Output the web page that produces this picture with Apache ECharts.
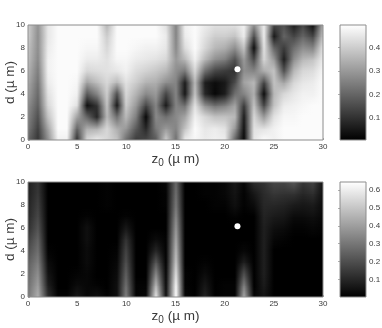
<!DOCTYPE html>
<html><head><meta charset="utf-8">
<style>html,body{margin:0;padding:0;background:#fff}#c{width:382px;height:328px}</style>
<script src="https://cdn.jsdelivr.net/npm/echarts@6/dist/echarts.min.js"></script></head>
<body><div id="c"></div>
<script>
// Top panel: one list per z0 = 0..30, values at d = 0..10 (in units of 0.01)
var topColumns = [
[20,24,26,28,31,33,35,37,38,40,40],
[11,13,16,19,21,23,25,27,28,28,29],
[28,32,38,42,44,46,47,47,46,45,45],
[47,49,49,49,49,49,49,49,49,49,49],
[47,49,49,49,49,49,49,49,49,49,49],
[10,20,32,44,47,48,49,49,49,49,49],
[42,34,20,3,18,32,42,46,48,49,49],
[46,34,8,10,26,37,43,46,48,49,49],
[42,42,36,38,40,42,44,44,42,40,36],
[38,34,22,5,16,36,45,48,49,49,49],
[22,30,36,40,42,44,47,48,49,49,49],
[12,18,25,30,35,40,43,46,48,49,49],
[14,8,2,14,27,35,41,45,47,49,49],
[18,24,27,26,30,34,39,44,47,49,49],
[40,30,22,5,14,28,36,42,45,46,44],
[22,26,27,26,26,26,28,30,27,26,26],
[46,38,32,22,5,6,24,36,43,46,47],
[48,49,47,44,38,36,42,47,49,49,49],
[46,45,42,28,8,6,22,36,42,44,46],
[47,46,38,22,2,3,14,28,36,40,44],
[46,44,38,25,6,5,12,25,34,40,44],
[20,30,36,32,22,15,10,16,28,38,44],
[2,4,6,12,26,32,28,30,38,46,47],
[45,44,42,38,34,36,26,15,3,15,28],
[49,44,30,14,3,14,34,42,44,46,46],
[47,47,44,38,36,38,38,30,20,5,14],
[49,49,48,46,42,32,16,6,12,20,16],
[49,49,48,47,45,42,36,28,22,14,6],
[49,49,49,48,47,45,42,36,28,20,14],
[49,49,49,49,47,46,43,38,26,14,3],
[49,49,49,49,49,49,48,46,44,38,34]
];
// Bottom panel: same layout
var bottomColumns = [
[30,28,26,24,20,16,12,10,9,8,8],
[44,40,36,32,28,25,21,18,16,14,13],
[12,8,5,3,1,0,0,0,0,0,0],
[1,0,0,0,0,0,0,0,0,0,0],
[1,0,0,0,0,0,0,0,0,0,0],
[6,3,1,0,0,0,0,0,0,0,0],
[2,2,2,3,3,4,4,1,0,0,0],
[4,1,0,0,0,0,0,0,0,0,0],
[1,0,0,0,0,0,0,0,1,1,1],
[4,4,3,2,1,0,0,0,0,0,0],
[32,28,24,20,17,13,6,1,0,0,0],
[1,1,0,0,0,0,0,0,0,0,0],
[2,1,0,0,0,0,0,0,0,0,0],
[58,46,34,22,10,3,0,0,0,0,0],
[4,3,2,1,1,1,0,0,1,1,2],
[64,62,56,50,46,42,38,34,30,28,26],
[2,1,1,0,0,0,0,0,0,0,0],
[0,0,0,0,0,0,0,0,0,0,0],
[9,6,3,1,0,0,0,0,0,1,1],
[0,0,0,0,0,0,0,0,1,1,1],
[1,1,0,0,0,0,0,0,1,2,2],
[1,1,0,0,0,0,0,1,4,5,6],
[42,32,20,8,2,0,0,0,1,1,2],
[2,0,0,0,0,0,0,0,3,6,11],
[5,7,8,8,8,8,8,9,10,11,13],
[0,0,0,0,0,2,4,7,10,14,18],
[0,0,0,0,0,1,3,6,9,13,18],
[0,0,0,0,0,0,1,3,7,13,22],
[0,0,0,0,0,0,1,3,6,10,14],
[0,0,0,0,0,0,2,4,7,12,17],
[0,0,0,0,0,0,1,2,3,4,5]
];
var zTicks = [0,5,10,15,20,25,30];
var dTicks = [0,2,4,6,8,10];
var marker = [[21.3, 6.15]];
var topRange = [0.005, 0.497];
var bottomRange = [0.002, 0.645];
var topBarTicks = [0.1,0.2,0.3,0.4];
var bottomBarTicks = [0.1,0.2,0.3,0.4,0.5,0.6];

var textColor = '#3a3a3a', frame = '#8c8c8c', font = 'Liberation Sans';
function grey(v, r){
  var g = Math.max(0, Math.min(255, Math.round((v - r[0]) / (r[1] - r[0]) * 255)));
  return 'rgb(' + g + ',' + g + ',' + g + ')';
}
function cells(cols){
  var out = [];
  for (var z = 0; z < cols.length - 1; z++)
    for (var d = 0; d < cols[z].length - 1; d++)
      out.push([z, d, cols[z][d]/100, cols[z+1][d]/100, cols[z][d+1]/100, cols[z+1][d+1]/100]);
  return out;
}
var STRIPS = 12;
function shader(range){
  return function(params, api){
    var z = api.value(0), d = api.value(1);
    var a = api.value(2), b = api.value(3), c = api.value(4), e = api.value(5);
    var p0 = api.coord([z, d]), p1 = api.coord([z + 1, d + 1]);
    var x0 = Math.round(p0[0]), x1 = Math.round(p1[0]);
    var h = p0[1] - p1[1], kids = [];
    for (var i = 0; i < STRIPS; i++){
      var t = (i + 0.5) / STRIPS;
      var yb = Math.round(p0[1] - h * i / STRIPS), yt = Math.round(p0[1] - h * (i + 1) / STRIPS);
      if (yb <= yt) continue;
      kids.push({type:'rect', silent:true,
        shape:{x:x0, y:yt, width:x1 - x0, height:yb - yt},
        style:{fill:new echarts.graphic.LinearGradient(0,0,1,0,[
          {offset:0, color:grey(a + (c - a) * t, range)},
          {offset:1, color:grey(b + (e - b) * t, range)}])}});
    }
    return {type:'group', children:kids};
  };
}
function barShader(params, api){
  var r = api.value(0) === 0 ? topRange : bottomRange;
  var a = api.coord([0, r[0]]), b = api.coord([1, r[1]]);
  return {type:'rect', silent:true, shape:{x:a[0], y:b[1], width:b[0]-a[0], height:a[1]-b[1]},
    style:{fill:new echarts.graphic.LinearGradient(0,1,0,0,[{offset:0,color:'#000'},{offset:1,color:'#fff'}])}};
}
var grids = [
  {left:28, top:25, width:295, height:115},
  {left:28, top:182, width:295, height:115},
  {left:340, top:25, width:26, height:115},
  {left:340, top:182, width:26, height:115}
];
grids.forEach(function(g){ g.show = true; g.borderColor = frame; g.borderWidth = 1; g.backgroundColor = 'transparent'; g.z = 5; g.outerBoundsMode = 'none'; g.containLabel = false; });

function xAxis(i){
  return {type:'value', gridIndex:i, min:0, max:30, interval:5,
    name:'{n|z}{s|0}{n| (µ m)}', nameLocation:'middle', nameGap:11,
    nameTextStyle:{rich:{n:{fontSize:13.5,fontFamily:font,color:textColor},
      s:{fontSize:10,fontFamily:font,color:textColor,verticalAlign:'bottom',padding:[7,0,0,0]}}},
    axisLine:{show:false}, splitLine:{show:false},
    axisTick:{inside:true, length:2, lineStyle:{color:frame, width:0.7}},
    axisLabel:{fontSize:8, fontFamily:font, color:textColor, margin:3, customValues:zTicks}};
}
function yAxis(i){
  return {type:'value', gridIndex:i, min:0, max:10, interval:2,
    name:'d (µ m)', nameLocation:'middle', nameGap:11, nameMoveOverlap:false,
    nameTextStyle:{fontSize:13.5,fontFamily:font,color:textColor},
    axisLine:{show:false}, splitLine:{show:false},
    axisTick:{inside:true, length:2, lineStyle:{color:frame, width:0.7}},
    axisLabel:{fontSize:8, fontFamily:font, color:textColor, margin:3, customValues:dTicks}};
}
function barX(i){ return {type:'value', gridIndex:i, min:0, max:1, show:false}; }
function barY(i, r, t){
  return {type:'value', gridIndex:i, min:r[0], max:r[1], position:'right', scale:true,
    axisLine:{show:false}, splitLine:{show:false},
    axisTick:{inside:true, length:2, customValues:t, lineStyle:{color:frame, width:0.7}},
    axisLabel:{fontSize:8, fontFamily:font, color:textColor, margin:3, customValues:t,
      formatter:function(v){return v.toFixed(1);}}};
}
function dots(i){
  return {type:'scatter', xAxisIndex:i, yAxisIndex:i, data:marker, symbol:'circle', symbolSize:6,
    silent:true, z:10, itemStyle:{color:'#fff', opacity:1}};
}
var option = {
  animation:false, backgroundColor:'#fff', grid:grids,
  xAxis:[xAxis(0), xAxis(1), barX(2), barX(3)],
  yAxis:[yAxis(0), yAxis(1), barY(2, topRange, topBarTicks), barY(3, bottomRange, bottomBarTicks)],
  series:[
    {type:'custom', xAxisIndex:0, yAxisIndex:0, renderItem:shader(topRange), data:cells(topColumns),
      encode:{x:0,y:1}, clip:true, silent:true},
    {type:'custom', xAxisIndex:1, yAxisIndex:1, renderItem:shader(bottomRange), data:cells(bottomColumns),
      encode:{x:0,y:1}, clip:true, silent:true},
    dots(0), dots(1),
    {type:'custom', xAxisIndex:2, yAxisIndex:2, renderItem:barShader, data:[[0]], encode:{x:0}, silent:true},
    {type:'custom', xAxisIndex:3, yAxisIndex:3, renderItem:barShader, data:[[1]], encode:{x:0}, silent:true}
  ]
};
echarts.init(document.getElementById('c'), null, {renderer:'canvas'}).setOption(option);
</script></body></html>
